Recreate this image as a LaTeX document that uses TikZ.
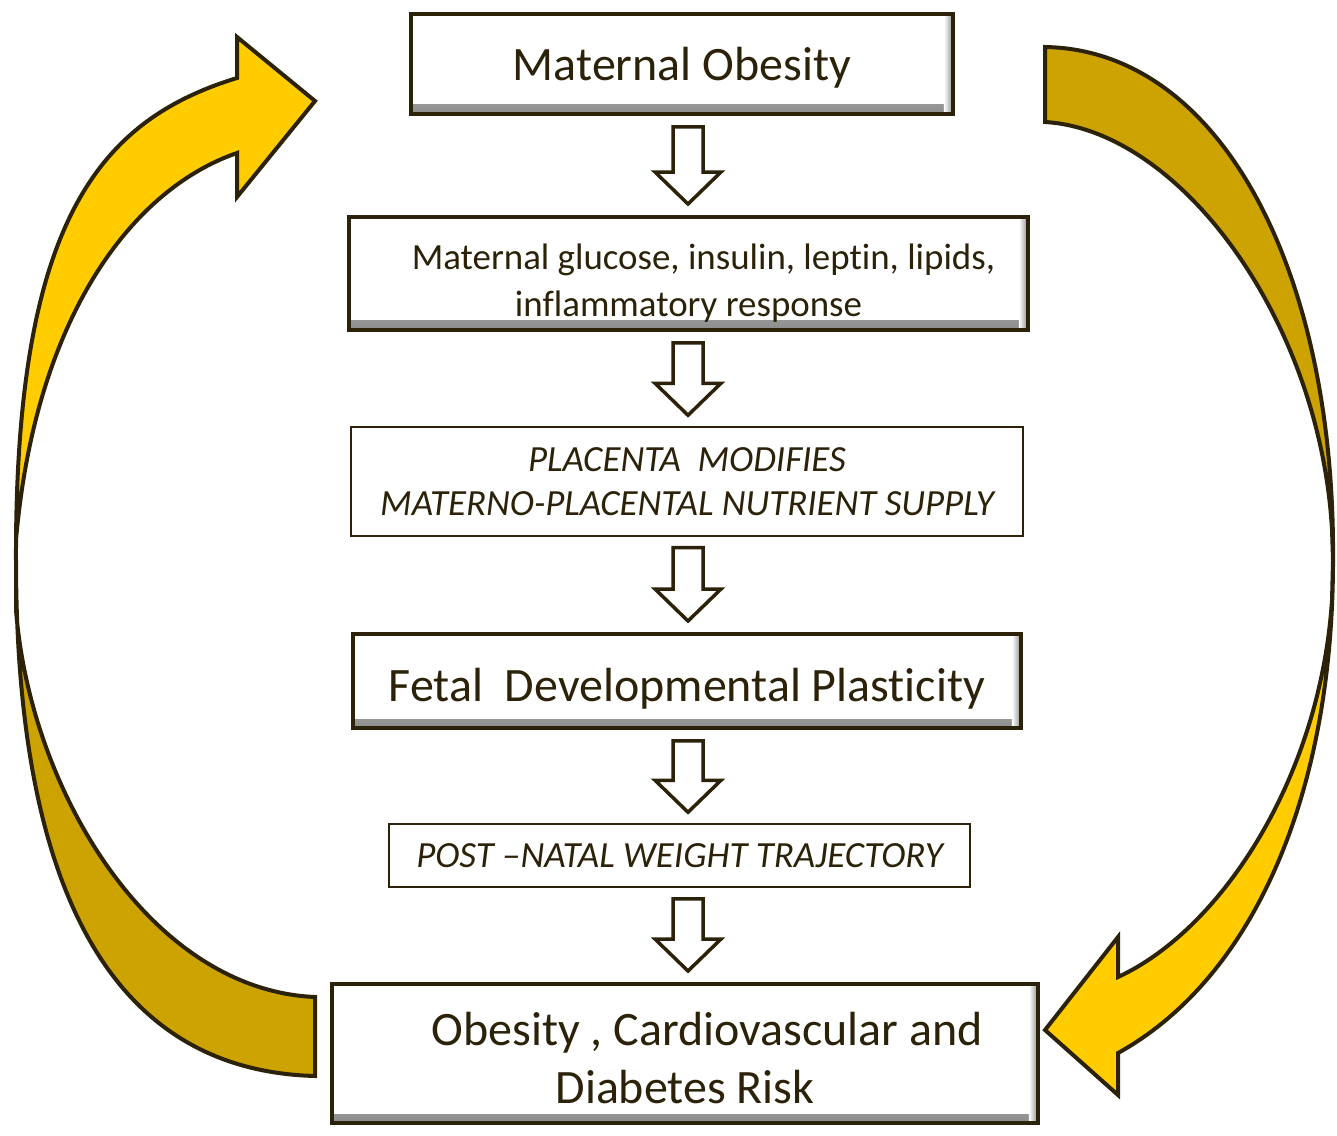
\documentclass[tikz,border=0pt]{standalone}
\usepackage{fontspec}
\setmainfont{Carlito}[Ligatures={TeX,NoCommon}]
\usepackage{tikz}
\usetikzlibrary{calc}
\definecolor{loopGold}{RGB}{255,204,0}
\definecolor{loopDark}{RGB}{204,163,0}
\definecolor{inkBrown}{RGB}{43,34,9}
\newcommand{\HollowDown}[2]{
	\draw[hollow] let \p1=(#1.south), \p2=(#2.north), \p3=(axis) in
		(\x3-0.3cm,\y1-0.22cm) -- (\x3+0.3cm,\y1-0.22cm) -- (\x3+0.3cm,\y2+0.86cm) -- (\x3+0.66cm,\y2+0.86cm)
		-- (\x3,\y2+0.22cm) -- (\x3-0.66cm,\y2+0.86cm) -- (\x3-0.3cm,\y2+0.86cm) -- cycle;
}
\begin{document}
\begin{tikzpicture}[x=0.02cm, y=-0.02cm, text=inkBrown,
	bigtext/.style={font=\fontsize{27.3}{33}\selectfont},
	smalltext/.style={font=\fontsize{21}{26.5}\selectfont},
	slanttext/.style={font=\fontsize{21}{25}\selectfont\itshape},
	thickbox/.style={draw=inkBrown, fill=white, line width=0.08cm, align=center, inner sep=0pt,
		path picture={
			\shade[top color=white, bottom color=black!45] ([yshift=0.18cm]path picture bounding box.south west) rectangle (path picture bounding box.south east);
			\shade[left color=white, right color=black!45] ([xshift=-0.18cm]path picture bounding box.north east) rectangle (path picture bounding box.south east);
		}},
	thinbox/.style={draw=inkBrown, fill=white, line width=0.03cm, align=center, inner sep=0pt},
	hollow/.style={draw=inkBrown, fill=white, line width=0.07cm, line join=miter},
	loopline/.style={draw=inkBrown, line width=0.08cm, line join=miter}]

	\useasboundingbox (0,0) rectangle (1337,1135);
	\coordinate (axis) at (688,0);

	% feedback loops
	\filldraw[loopline, fill=loopDark] (16,560) .. controls (16,850) and (90,1070) .. (315,1076) -- (315,997) .. controls (150,990) and (30,790) .. (16,610) -- cycle;
	\filldraw[loopline, fill=loopGold] (16,560) .. controls (15,220) and (100,120) .. (237,78) -- (237,37) -- (315,101) -- (237,197) -- (237,153) .. controls (130,190) and (35,320) .. (16,540) -- cycle;

	\filldraw[loopline, fill=loopDark] (1045,47) .. controls (1220,50) and (1335,270) .. (1333,560) -- (1332,530) .. controls (1320,320) and (1180,130) .. (1045,122) -- cycle;
	\filldraw[loopline, fill=loopGold] (1333,560) .. controls (1333,800) and (1250,980) .. (1118,1053) -- (1118,1095) -- (1045,1030) -- (1118,937) -- (1118,977) .. controls (1220,930) and (1320,780) .. (1332,600) -- cycle;

	% chain of boxes
	\node[thickbox, bigtext, minimum width=10.84cm, minimum height=2cm, text height=0.8cm] (obesity) at (682,64) {Maternal Obesity};
	\node[thickbox, smalltext, minimum width=13.58cm, minimum height=2.26cm] (signals) at (688.5,273.5) {\rule{0pt}{0.9cm}\hspace*{0.6cm}Maternal glucose, insulin, leptin, lipids,\\inflammatory response};
	\node[thinbox, slanttext, minimum width=13.44cm, minimum height=2.18cm] (placenta) at (687,481.5) {PLACENTA\ \ MODIFIES\\MATERNO-PLACENTAL NUTRIENT SUPPLY};
	\node[thickbox, bigtext, minimum width=13.36cm, minimum height=1.88cm, text height=0.96cm] (fetal) at (687,681) {Fetal\ \ Developmental Plasticity};
	\node[thinbox, slanttext, minimum width=11.62cm, minimum height=1.26cm] (postnatal) at (679.5,855.5) {POST –NATAL WEIGHT TRAJECTORY};
	\node[thickbox, bigtext, minimum width=14.12cm, minimum height=2.78cm] (risk) at (685,1053.5) {\rule{0pt}{0.85cm}\hspace*{0.88cm}Obesity , Cardiovascular and\\Diabetes Risk};

	\HollowDown{obesity}{signals}
	\HollowDown{signals}{placenta}
	\HollowDown{placenta}{fetal}
	\HollowDown{fetal}{postnatal}
	\HollowDown{postnatal}{risk}

\end{tikzpicture}
\end{document}
